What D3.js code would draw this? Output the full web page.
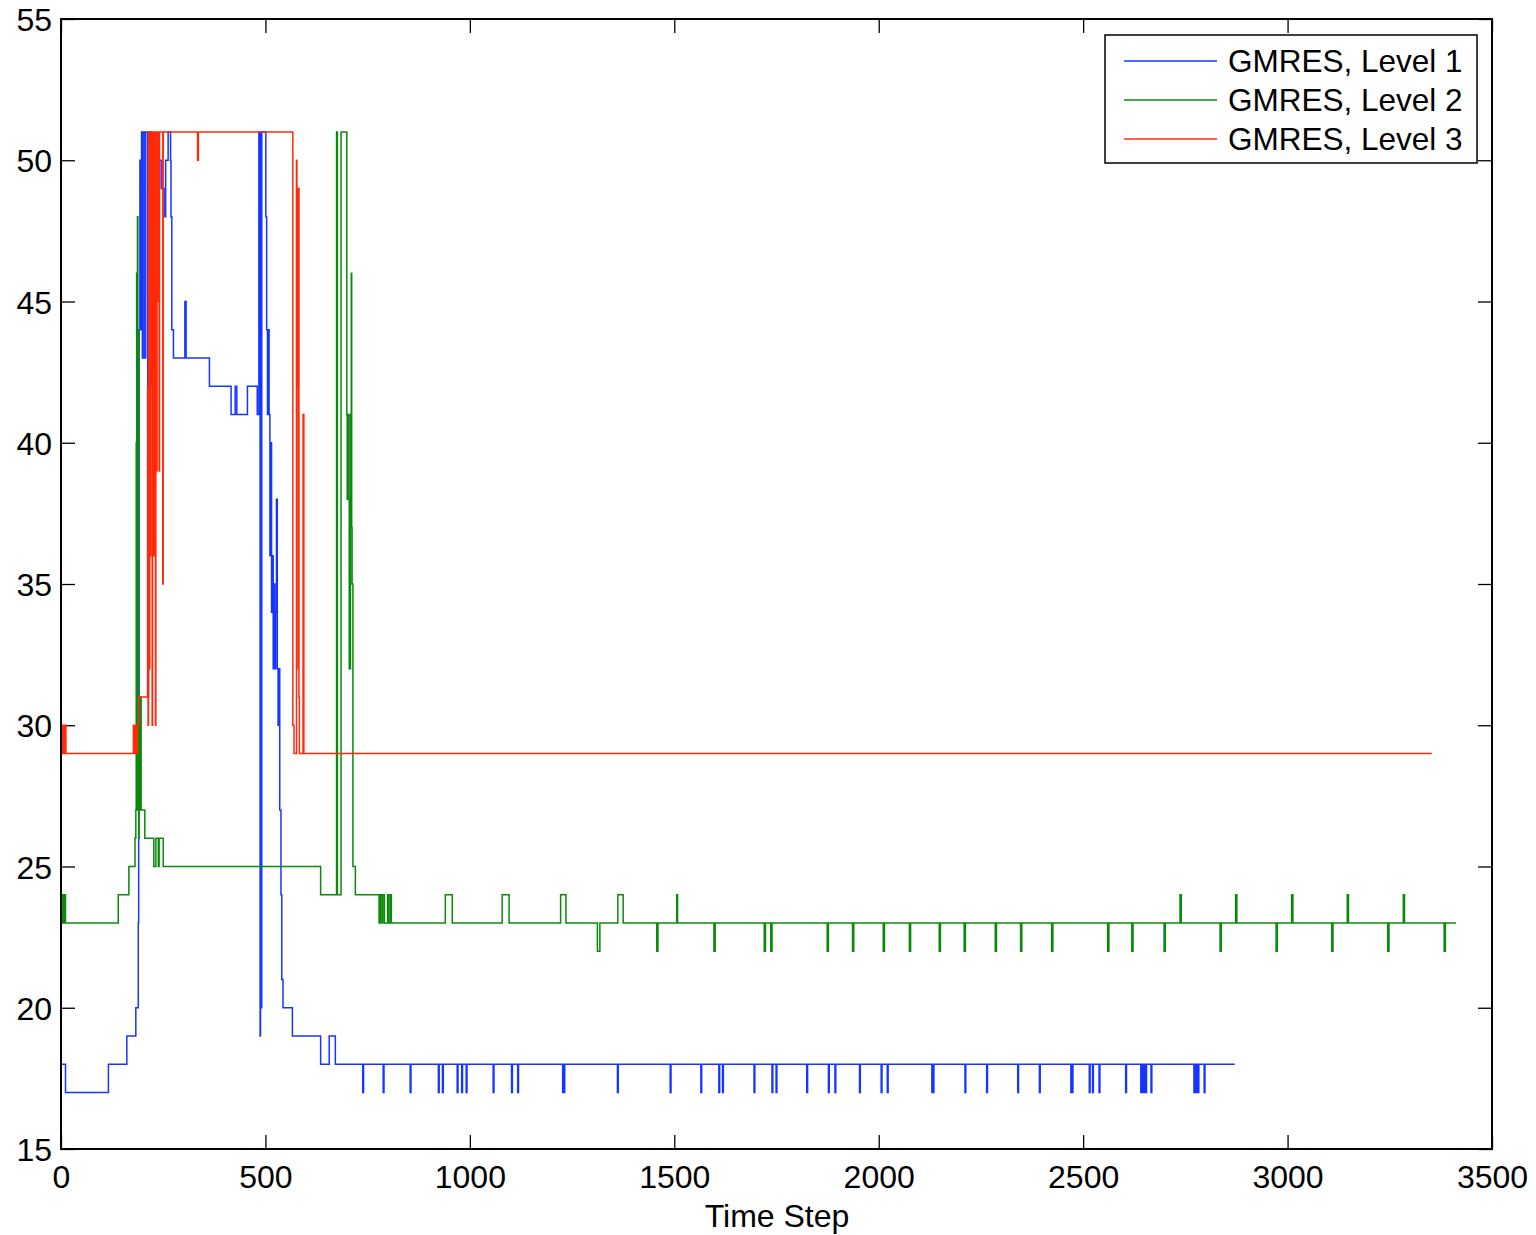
<!DOCTYPE html>
<html><head><meta charset="utf-8">
<script src="https://cdn.jsdelivr.net/npm/d3@7"></script>
<style>
body{margin:0;background:#fff}
text{font-family:"Liberation Sans",Arial,Helvetica,sans-serif;fill:#000}
</style>
</head><body>
<svg id="chart" width="1536" height="1235"></svg>
<script>
// ---- data (step change points: [time step, iterations]) ----
const seriesNames = ["GMRES, Level 1", "GMRES, Level 2", "GMRES, Level 3"];
const seriesColors = ["#1636ff", "#0a8a0a", "#ff2a0a"];
const xTicks = [0, 500, 1000, 1500, 2000, 2500, 3000, 3500];
const yTicks = [15, 20, 25, 30, 35, 40, 45, 50, 55];
const xLabel = "Time Step";

const level1Steps = [
  [0,18],[11,17],[116,18],[161,19],[183,20],[189,23],[190,30],[191,44],[193,50],[195,44],[197,51],
  [199,43],[201,51],[205,43],[207,51],[212,31],[214,51],[218,44],[219,51],[222,50],[236,48],[238,50],
  [245,49],[254,48],[256,50],[262,51],[268,50],[269,48],[271,44],[275,43],[303,45],[306,43],[363,42],
  [416,41],[426,42],[430,41],[456,42],[480,41],[484,51],[487,19],[488,51],[490,20],[491,51],[501,48],
  [503,44],[505,41],[507,44],[509,41],[511,36],[513,40],[515,34],[517,36],[519,32],[521,35],[523,32],
  [525,34],[527,38],[529,32],[531,30],[533,32],[535,27],[538,24],[540,21],[543,20],[566,19],[635,18],
  [656,19],[671,18],
  [738,17],[740,18],[788,17],[790,18],[854,17],[856,18],[923,17],[925,18],[933,17],[935,18],
  [969,17],[971,18],[980,17],[982,18],[991,17],[993,18],[1057,17],[1059,18],[1102,17],[1104,18],
  [1117,17],[1119,18],[1227,17],[1229,18],[1230,17],[1232,18],[1361,17],[1363,18],[1490,17],[1492,18],
  [1565,17],[1567,18],[1609,17],[1611,18],[1618,17],[1620,18],[1695,17],[1697,18],[1739,17],[1741,18],
  [1749,17],[1751,18],[1824,17],[1826,18],[1877,17],[1879,18],[1893,17],[1895,18],[1953,17],[1955,18],
  [2006,17],[2008,18],[2021,17],[2023,18],[2130,17],[2132,18],[2133,17],[2135,18],[2211,17],[2213,18],
  [2264,17],[2266,18],[2340,17],[2342,18],[2393,17],[2395,18],[2470,17],[2472,18],[2473,17],[2475,18],
  [2515,17],[2517,18],[2523,17],[2525,18],[2539,17],[2541,18],[2604,17],[2606,18],
  [2641,17],[2643,18],[2644,17],[2646,18],[2647,17],[2649,18],[2650,17],[2652,18],[2653,17],[2655,18],
  [2666,17],[2668,18],[2771,17],[2773,18],[2774,17],[2776,18],[2777,17],[2779,18],[2780,17],[2783,18],
  [2796,17],[2798,18],[2871,18]
];

const level2Steps = [
  [0,24],[3,23],[5,24],[8,23],[10,24],[11,23],[140,24],[166,25],[181,26],[183,27],[184,40],[185,46],
  [186,27],[187,48],[188,31],[189,44],[190,26],[191,30],[193,27],[195,31],[196,27],[205,26],[227,25],
  [232,26],[238,25],[240,26],[250,25],[635,24],[674,51],[676,24],[685,51],[699,41],[700,38],[702,41],
  [704,38],[705,32],[708,41],[710,46],[711,37],[712,35],[714,25],[720,24],[778,23],[781,24],[785,23],
  [787,24],[791,23],[799,24],[801,23],[805,24],[808,23],
  [940,24],[957,23],[1079,24],[1096,23],[1222,24],[1235,23],[1312,22],[1318,23],[1362,24],[1375,23],
  [1457,22],[1460,23],[1506,24],[1508,23],[1597,22],[1600,23],[1720,22],[1723,23],[1736,22],[1739,23],
  [1874,22],[1877,23],[1936,22],[1939,23],[2011,22],[2014,23],[2075,22],[2078,23],[2148,22],[2151,23],
  [2209,22],[2212,23],[2285,22],[2288,23],[2347,22],[2350,23],[2423,22],[2426,23],[2560,22],[2563,23],
  [2619,22],[2622,23],[2698,22],[2701,23],[2737,24],[2740,23],[2835,22],[2838,23],[2873,24],[2876,23],
  [2972,22],[2975,23],[3010,24],[3013,23],[3108,22],[3111,23],[3146,24],[3149,23],[3245,22],[3248,23],
  [3283,24],[3286,23],[3383,22],[3386,23],[3412,23]
];

const level3Steps = [
  [0,30],[3,29],[5,30],[8,29],[10,30],[12,29],[177,30],[180,29],[182,30],[185,29],[187,30],[190,31],
  [212,42],[213,30],[214,51],[216,32],[217,51],[218,36],[219,51],[220,42],[221,51],[223,30],[224,51],
  [226,36],[227,51],[228,45],[229,36],[230,51],[231,30],[232,51],[234,39],[235,51],[237,45],[238,51],
  [240,39],[241,51],[249,35],[250,51],[334,50],[336,51],[567,30],[570,29],[576,50],[577,42],[578,49],
  [580,32],[581,49],[582,31],[583,29],[592,41],[594,29],[3353,29]
];

const allSeries = [level1Steps, level2Steps, level3Steps];

// ---- layout ----
const svg = d3.select("#chart");
const pL = 61, pR = 1492, pT = 19, pB = 1149;
const x = d3.scaleLinear().domain([0, 3500]).range([pL, pR]);
const y = d3.scaleLinear().domain([15, 55]).range([pB, pT]);
const fs = 32, lfs = 31.5, tk = 14;

const axB = d3.axisBottom(x).tickValues(xTicks).tickFormat(d3.format("d")).tickSizeInner(-tk).tickSizeOuter(0).tickPadding(16);
const axL = d3.axisLeft(y).tickValues(yTicks).tickFormat(d3.format("d")).tickSizeInner(-tk).tickSizeOuter(0).tickPadding(9);
const axT = d3.axisTop(x).tickValues(xTicks).tickFormat("").tickSizeInner(-tk).tickSizeOuter(0);
const axR = d3.axisRight(y).tickValues(yTicks).tickFormat("").tickSizeInner(-tk).tickSizeOuter(0);

function styleAxis(g) {
  g.select(".domain").remove();
  g.selectAll(".tick line").attr("stroke", "#000").attr("stroke-width", 1.3);
  g.selectAll(".tick text").style("font-size", fs + "px").attr("fill", "#000");
}
svg.append("g").attr("transform", `translate(0,${pB})`).call(axB).call(styleAxis);
svg.append("g").attr("transform", `translate(${pL},0)`).call(axL).call(styleAxis)
  .selectAll(".tick text").attr("dy", "0.36em");
svg.append("g").attr("transform", `translate(0,${pT})`).call(axT).call(styleAxis);
svg.append("g").attr("transform", `translate(${pR},0)`).call(axR).call(styleAxis);

const line = d3.line().x(d => x(d[0])).y(d => y(d[1])).curve(d3.curveStepAfter);
allSeries.forEach((s, i) => {
  svg.append("path").datum(s).attr("d", line)
    .attr("fill", "none").attr("stroke", seriesColors[i]).attr("stroke-width", 1.5);
});

svg.append("rect").attr("x", pL).attr("y", pT).attr("width", pR - pL).attr("height", pB - pT)
  .attr("fill", "none").attr("stroke", "#000").attr("stroke-width", 2);

svg.append("text").attr("x", 777).attr("y", 1227).attr("text-anchor", "middle")
  .style("font-size", fs + "px").text(xLabel);

const lg = svg.append("g");
lg.append("rect").attr("x", 1105).attr("y", 35).attr("width", 372).attr("height", 128)
  .attr("fill", "#fff").attr("stroke", "#000").attr("stroke-width", 1.5);
seriesNames.forEach((n, i) => {
  const yy = 61 + i * 39;
  lg.append("line").attr("x1", 1124).attr("x2", 1217).attr("y1", yy).attr("y2", yy)
    .attr("stroke", seriesColors[i]).attr("stroke-width", 1.5);
  lg.append("text").attr("x", 1228).attr("y", yy).attr("dy", "0.36em").style("font-size", lfs + "px").text(n);
});
</script>
</body></html>
